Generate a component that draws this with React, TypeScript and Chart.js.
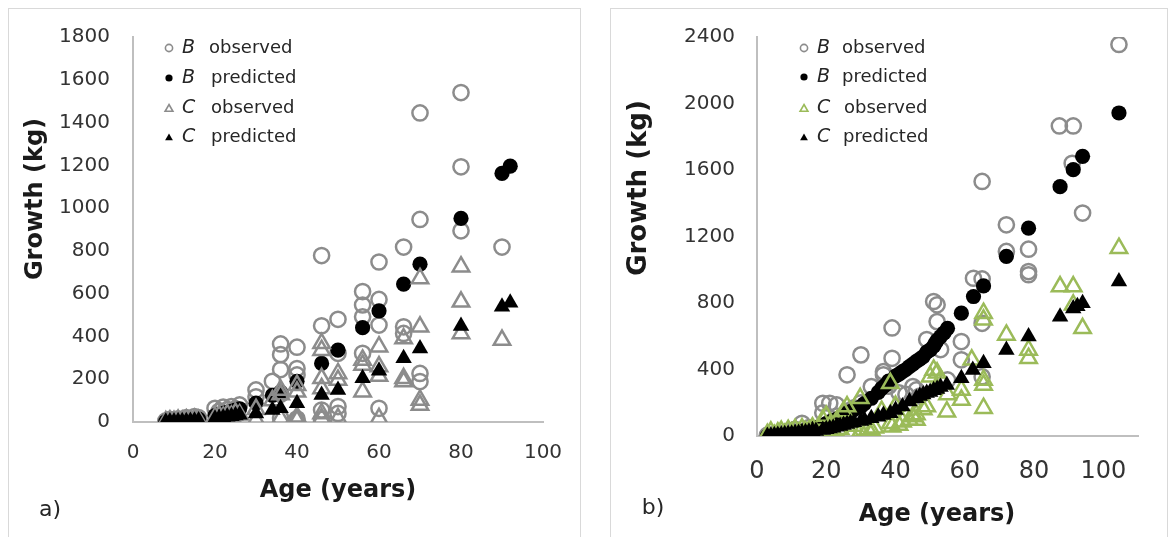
import React, { useEffect, useRef } from 'react';
import { Chart, registerables } from 'chart.js';

Chart.register(...registerables);

const FONT = '"DejaVu Sans", Verdana, sans-serif';

type Pt = [number, number];

// ---------------- Panel a data ----------------
const A_X_TICKS = [0, 20, 40, 60, 80, 100];
const A_Y_TICKS = [0, 200, 400, 600, 800, 1000, 1200, 1400, 1600, 1800];

const A_B_OBSERVED: Pt[] = [
  [8, 5], [9, 12], [10, 8], [11, 15], [12, 10], [13, 20], [14, 14], [15, 25], [16, 20],
  [20, 64], [21, 50], [22, 70], [23, 58], [24, 72], [25, 62], [26, 80],
  [30, 150], [30, 118], [34, 190], [36, 365], [36, 315], [36, 245], [36, 130], [36, 20],
  [40, 350], [40, 250], [40, 220], [40, 15],
  [46, 778], [46, 450], [46, 56], [46, 12],
  [50, 480], [50, 321], [50, 72], [50, 40],
  [56, 610], [56, 547], [56, 492], [56, 321],
  [60, 748], [60, 573], [60, 453], [60, 64],
  [66, 818], [66, 445], [66, 414],
  [70, 1445], [70, 947], [70, 227], [70, 189],
  [80, 1540], [80, 1193], [80, 894],
  [90, 818],
];
const A_B_PREDICTED: Pt[] = [
  [8, 2], [9, 3], [10, 4], [11, 5], [12, 7], [13, 8], [14, 10], [15, 12], [16, 14],
  [20, 30], [21, 35], [22, 40], [23, 45], [24, 50], [25, 56], [26, 62],
  [30, 88], [34, 125], [36, 140], [40, 190], [46, 274], [50, 336], [56, 441],
  [60, 520], [66, 645], [70, 738], [80, 952], [90, 1162], [92, 1196],
];
const A_C_OBSERVED: Pt[] = [
  [8, 2], [9, 6], [10, 3], [11, 9], [12, 5], [13, 11], [14, 6], [15, 13], [16, 8],
  [20, 20], [21, 30], [22, 22], [23, 36], [24, 28], [25, 42], [26, 34],
  [30, 60], [30, 10], [34, 100], [36, 150], [36, 128], [36, 17],
  [40, 172], [40, 141], [40, 25], [40, 8],
  [46, 368], [46, 336], [46, 204], [46, 157], [46, 40], [46, 17],
  [50, 227], [50, 196], [50, 17],
  [56, 290], [56, 267], [56, 142],
  [60, 352], [60, 259], [60, 215], [60, 17],
  [66, 390], [66, 204], [66, 189],
  [70, 671], [70, 445], [70, 103], [70, 79],
  [80, 726], [80, 562], [80, 414],
  [90, 383],
];
const A_C_PREDICTED: Pt[] = [
  [8, 1], [9, 2], [10, 2], [11, 3], [12, 3], [13, 4], [14, 5], [15, 6], [16, 7],
  [20, 15], [21, 18], [22, 21], [23, 24], [24, 27], [25, 30], [26, 34],
  [30, 40], [34, 56], [36, 64], [40, 88], [46, 126], [50, 150], [56, 204],
  [60, 240], [66, 298], [70, 344], [80, 449], [90, 539], [92, 557],
];

// ---------------- Panel b data ----------------
const B_X_TICKS = [0, 20, 40, 60, 80, 100];
const B_Y_TICKS = [0, 400, 800, 1200, 1600, 2000, 2400];

const B_B_OBSERVED: Pt[] = [
  [3, 5], [5, 10], [7, 15], [9, 30], [11, 40], [13, 76], [15, 50], [17, 45],
  [19, 197], [19, 140], [21, 197], [23, 187], [23, 120], [26, 368], [26, 150], [28, 170],
  [30, 488], [30, 200], [33, 297], [36.5, 387], [36.5, 368], [38, 300],
  [39, 650], [39, 467], [41, 260], [43, 250], [45, 297], [46, 277], [47, 240],
  [49, 580], [51, 809], [52, 789], [52, 688], [53, 520], [55, 337],
  [59, 568], [59, 458], [62.5, 949], [65, 945], [65, 678], [65, 357], [65, 1531],
  [72, 1270], [72, 1110], [78.4, 1124], [78.4, 989], [78.4, 970],
  [87.3, 1865], [91.3, 1865], [91, 1640], [94, 1341], [104.5, 2355],
];
const B_B_PREDICTED: Pt[] = [
  [3, 0], [4, 3], [5, 5], [6, 8], [7, 10], [8, 12], [9, 15], [10, 18], [11, 22], [12, 25],
  [13, 28], [14, 32], [15, 38], [16, 45], [17, 50], [19, 66], [20, 75], [21, 85], [22, 92],
  [23, 100], [24, 110], [25, 122], [26, 137], [27, 145], [28, 158], [30, 177], [31, 195],
  [33, 227], [35, 262], [36, 287], [37, 305], [38, 330], [40, 360], [41, 372], [42, 387],
  [43, 400], [44, 417], [45, 432], [46, 449], [47, 462], [48, 478], [49, 505], [50, 518],
  [51, 540], [51.5, 558], [52, 575], [53, 598], [54, 620], [55, 648], [59, 739],
  [62.5, 839], [65.4, 903], [72, 1080], [78.4, 1250], [87.5, 1500], [91.3, 1602],
  [94, 1682], [104.5, 1943],
];
const B_C_OBSERVED: Pt[] = [
  [3, 10], [4, 25], [5, 5], [6, 20], [7, 30], [8, 10], [9, 35], [10, 20], [11, 40], [12, 15],
  [13, 45], [14, 25], [15, 30], [16, 50], [17, 20], [19, 96], [20, 120], [21, 60], [22, 30],
  [23, 90], [24, 40], [25, 147], [26, 177], [27, 20], [28, 60], [29.8, 227], [30, 30],
  [32, 40], [33, 36], [34, 50], [36, 150], [38.5, 317], [38.5, 76], [39, 56], [40, 180],
  [41, 66], [42, 86], [44, 96], [45, 117], [46, 96], [46, 130], [48, 160], [49, 177],
  [50, 357], [51, 397], [52, 380], [53, 340], [54.8, 146], [55, 250], [59, 277], [59, 217],
  [62, 458], [65.4, 739], [65.4, 699], [65.4, 337], [65.4, 307], [65.4, 167],
  [72, 608], [78.4, 518], [78.4, 468], [87.5, 899], [91.3, 899], [91.3, 789], [94, 648],
  [104.5, 1130],
];
const B_C_PREDICTED: Pt[] = [
  [3, 0], [4, 2], [5, 4], [6, 6], [7, 8], [8, 10], [9, 12], [10, 14], [11, 16], [12, 18],
  [13, 20], [14, 22], [15, 25], [16, 28], [17, 30], [19, 36], [20, 40], [21, 45], [22, 50],
  [23, 55], [24, 60], [25, 66], [26, 72], [27, 78], [28, 82], [30, 90], [31, 96], [33, 107],
  [35, 116], [36.5, 127], [38.5, 137], [40, 157], [42, 177], [44, 207], [46, 227],
  [47, 240], [48, 250], [49, 258], [50, 265], [51, 275], [52, 283], [53, 295], [54.8, 307],
  [59, 347], [62.3, 397], [65.4, 438], [72, 518], [78.4, 598], [87.5, 718], [91.3, 767],
  [92.5, 780], [94, 799], [104.5, 929],
];

// ---------------- Texts ----------------
const Y_TITLE = 'Growth (kg)';
const X_TITLE = 'Age (years)';
const LEGEND_LETTERS = ['B', 'B', 'C', 'C'];
const LEGEND_WORDS = ['observed', 'predicted', 'observed', 'predicted'];

const GRAY = '#8c8c8c';
const GREEN = '#9bbb59';
const BLACK = '#000000';

interface MarkerStyle {
  shape: 'circle' | 'triangle';
  fill: string | null;
  stroke: string;
}

interface PanelCfg {
  label: string;
  left: number;
  width: number;
  data: Pt[][];
  styles: MarkerStyle[];
  xMax: number;
  yMax: number;
  xTicks: number[];
  yTicks: number[];
  padTop: number;
  padRight: number;
  yWidth: number;
  xHeight: number;
  yTickRight: number;
  xTickY: number;
  yTickSize: number;
  xTickSize: number;
  yTitle: { x: number; y: number; size: number };
  xTitle: { x: number; y: number; size: number };
  tag: { x: number; y: number; size: number };
  legend: { markerX: number; letterX: number; wordX: number[]; rows: number[] };
  box: { x: number; y: number; w: number; h: number };
}

const PANEL_A: PanelCfg = {
  label: 'a)',
  left: 0,
  width: 590,
  data: [A_B_OBSERVED, A_B_PREDICTED, A_C_OBSERVED, A_C_PREDICTED],
  styles: [
    { shape: 'circle', fill: null, stroke: GRAY },
    { shape: 'circle', fill: BLACK, stroke: BLACK },
    { shape: 'triangle', fill: null, stroke: GRAY },
    { shape: 'triangle', fill: BLACK, stroke: BLACK },
  ],
  xMax: 100,
  yMax: 1800,
  xTicks: A_X_TICKS,
  yTicks: A_Y_TICKS,
  padTop: 37,
  padRight: 47,
  yWidth: 133,
  xHeight: 115,
  yTickRight: 110,
  xTickY: 453,
  yTickSize: 20,
  xTickSize: 20,
  yTitle: { x: 36, y: 199, size: 24 },
  xTitle: { x: 338, y: 491, size: 24 },
  tag: { x: 50, y: 510, size: 22 },
  legend: { markerX: 169, letterX: 182, wordX: [209, 211, 211, 211], rows: [48, 78, 108, 137] },
  box: { x: 8, y: 8, w: 572, h: 540 },
};

const PANEL_B: PanelCfg = {
  label: 'b)',
  left: 590,
  width: 581,
  data: [B_B_OBSERVED, B_B_PREDICTED, B_C_OBSERVED, B_C_PREDICTED],
  styles: [
    { shape: 'circle', fill: null, stroke: GRAY },
    { shape: 'circle', fill: BLACK, stroke: BLACK },
    { shape: 'triangle', fill: null, stroke: GREEN },
    { shape: 'triangle', fill: BLACK, stroke: BLACK },
  ],
  xMax: 110,
  yMax: 2400,
  xTicks: B_X_TICKS,
  yTicks: B_Y_TICKS,
  padTop: 37,
  padRight: 33,
  yWidth: 167,
  xHeight: 101,
  yTickRight: 145,
  xTickY: 472,
  yTickSize: 20,
  xTickSize: 24,
  yTitle: { x: 49, y: 188, size: 26 },
  xTitle: { x: 347, y: 515, size: 24 },
  tag: { x: 63, y: 508, size: 22 },
  legend: { markerX: 214, letterX: 227, wordX: [252, 252, 254, 253], rows: [48, 77, 108, 137] },
  box: { x: 20, y: 8, w: 557, h: 540 },
};

const SERIES_NAMES = ['B observed', 'B predicted', 'C observed', 'C predicted'];

function drawMarker(ctx: CanvasRenderingContext2D, st: MarkerStyle, x: number, y: number, r: number) {
  ctx.beginPath();
  if (st.shape === 'circle') {
    ctx.arc(x, y, r, 0, Math.PI * 2);
  } else {
    const h = r * 1.5;
    const side = r * Math.sqrt(3);
    ctx.moveTo(x, y - r);
    ctx.lineTo(x + side / 2, y - r + h);
    ctx.lineTo(x - side / 2, y - r + h);
    ctx.closePath();
  }
  if (st.fill) {
    ctx.fillStyle = st.fill;
    ctx.fill();
  } else {
    ctx.strokeStyle = st.stroke;
    ctx.lineWidth = 1.6;
    ctx.stroke();
  }
}

function overlayPlugin(p: PanelCfg) {
  return {
    id: 'overlay' + p.label,
    afterDraw(chart: any) {
      const ctx: CanvasRenderingContext2D = chart.ctx;
      const xs = chart.scales.x;
      const ys = chart.scales.y;
      ctx.save();
      ctx.strokeStyle = '#d9d9d9';
      ctx.lineWidth = 1;
      ctx.strokeRect(p.box.x + 0.5, p.box.y + 0.5, p.box.w, p.box.h);

      // tick labels, positioned by the chart's scales
      ctx.fillStyle = '#333333';
      ctx.textBaseline = 'middle';
      ctx.textAlign = 'center';
      ctx.font = `${p.xTickSize}px ${FONT}`;
      for (const v of p.xTicks) ctx.fillText(String(v), xs.getPixelForValue(v), p.xTickY);
      ctx.textAlign = 'right';
      ctx.font = `${p.yTickSize}px ${FONT}`;
      for (const v of p.yTicks) ctx.fillText(String(v), p.yTickRight, ys.getPixelForValue(v));

      ctx.fillStyle = '#1a1a1a';
      ctx.textAlign = 'center';
      ctx.font = `bold ${p.xTitle.size}px ${FONT}`;
      ctx.fillText(X_TITLE, p.xTitle.x, p.xTitle.y);

      ctx.save();
      ctx.translate(p.yTitle.x, p.yTitle.y);
      ctx.rotate(-Math.PI / 2);
      ctx.font = `bold ${p.yTitle.size}px ${FONT}`;
      ctx.fillText(Y_TITLE, 0, 0);
      ctx.restore();

      ctx.font = `${p.tag.size}px ${FONT}`;
      ctx.fillStyle = '#262626';
      ctx.fillText(p.label, p.tag.x, p.tag.y);

      // legend
      ctx.textAlign = 'left';
      for (let i = 0; i < 4; i++) {
        const yy = p.legend.rows[i];
        const st = p.styles[i];
        drawMarker(ctx, st, p.legend.markerX, yy + (st.shape === 'triangle' ? 1 : 0), st.shape === 'triangle' ? 4.5 : 3.6);
        ctx.fillStyle = '#262626';
        ctx.font = `italic 19px ${FONT}`;
        ctx.fillText(LEGEND_LETTERS[i], p.legend.letterX, yy);
        ctx.font = `18px ${FONT}`;
        ctx.fillText(LEGEND_WORDS[i], p.legend.wordX[i], yy);
      }
      ctx.restore();
    },
  };
}

function buildChart(canvas: HTMLCanvasElement, p: PanelCfg) {
  const datasets = p.data.map((pts, i) => {
    const st = p.styles[i];
    return {
      label: SERIES_NAMES[i],
      data: pts.map(([x, y]) => ({ x, y })),
      pointStyle: st.shape,
      pointRadius: st.shape === 'triangle' ? 9.5 : 7.6,
      pointBorderWidth: st.fill ? 0 : 2.5,
      pointBackgroundColor: st.fill ? st.fill : 'rgba(0,0,0,0)',
      pointBorderColor: st.stroke,
      backgroundColor: st.fill ? st.fill : 'rgba(0,0,0,0)',
      borderColor: st.stroke,
      showLine: false,
      order: 4 - i,
    };
  });
  return new Chart(canvas, {
    type: 'scatter',
    data: { datasets },
    options: {
      animation: false,
      responsive: false,
      devicePixelRatio: 1,
      events: [],
      layout: { padding: { top: p.padTop, right: p.padRight, left: 0, bottom: 0 } },
      plugins: { legend: { display: false }, tooltip: { enabled: false }, title: { display: false } },
      scales: {
        x: {
          type: 'linear',
          min: 0,
          max: p.xMax,
          grid: { display: false, drawTicks: false },
          border: { display: true, color: '#bfbfbf', width: 2 },
          afterFit: (s: any) => { s.height = p.xHeight; },
          afterBuildTicks: (s: any) => { s.ticks = p.xTicks.map((v) => ({ value: v })); },
          ticks: { display: false },
        },
        y: {
          type: 'linear',
          min: 0,
          max: p.yMax,
          grid: { display: false, drawTicks: false },
          border: { display: true, color: '#bfbfbf', width: 2 },
          afterFit: (s: any) => { s.width = p.yWidth; },
          afterBuildTicks: (s: any) => { s.ticks = p.yTicks.map((v) => ({ value: v })); },
          ticks: { display: false },
        },
      },
    },
    plugins: [overlayPlugin(p)],
  } as any);
}

function Panel({ p }: { p: PanelCfg }) {
  const ref = useRef<HTMLCanvasElement | null>(null);
  useEffect(() => {
    if (!ref.current) return;
    const chart = buildChart(ref.current, p);
    return () => chart.destroy();
  }, [p]);
  return (
    <canvas
      ref={ref}
      width={p.width}
      height={537}
      style={{ position: 'absolute', left: p.left, top: 0, width: p.width, height: 537 }}
    />
  );
}

export default function App() {
  return (
    <div style={{ position: 'absolute', left: 0, top: 0, width: 1171, height: 537, background: '#ffffff', overflow: 'hidden' }}>
      <Panel p={PANEL_A} />
      <Panel p={PANEL_B} />
    </div>
  );
}
